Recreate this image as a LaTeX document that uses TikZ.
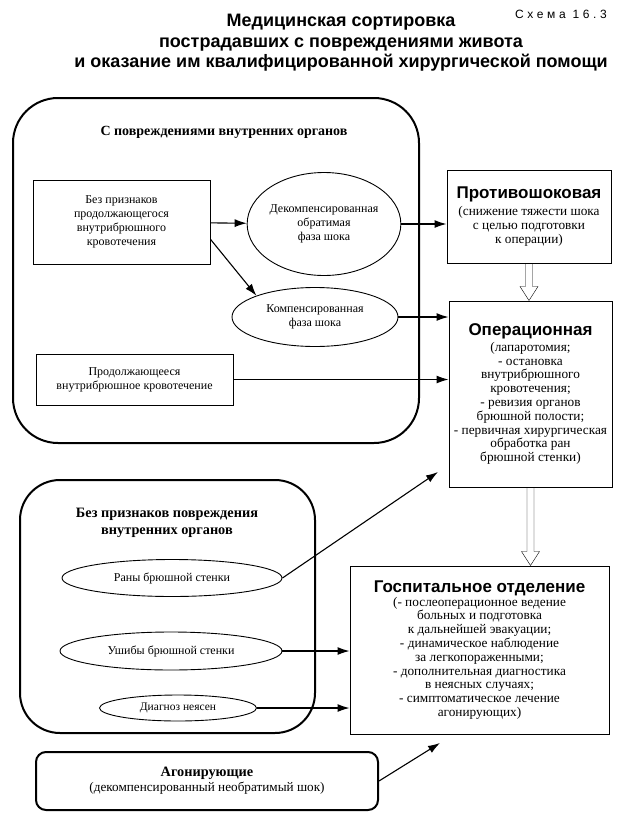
\documentclass[tikz,border=0pt]{standalone}
\usepackage{fontspec}
\setmainfont{Liberation Serif}
\newfontfamily\headfont{Liberation Sans}
\usetikzlibrary{arrows.meta,calc,shapes.geometric}
\newcommand\boxhead[1]{{\headfont\bfseries\fontsize{17}{18}\selectfont #1}}

\begin{document}
\begin{tikzpicture}[x=1pt,y=-1pt,
	every node/.style={align=center,inner sep=0pt,font=\fontsize{12}{14}\selectfont},
	box/.style={draw,line width=1pt},
	care/.style={box,font=\fontsize{13.3}{13.8}\selectfont},
	group/.style={draw,line width=2pt,rounded corners=45pt},
	oval/.style={draw,ellipse,line width=0.9pt},
	arr/.style={-{Latex[length=12pt,width=8pt]},line width=1.1pt},
	hollow/.style={line width=1pt,to path={let \p1=(\tikztostart),\p2=(\tikztotarget) in
		(\x1-3.5pt,\y1) -- (\x1-3.5pt,\y2+14pt) -- (\x1-9pt,\y2+14pt) -- (\x1,\y2)
		-- (\x1+9pt,\y2+14pt) -- (\x1+3.5pt,\y2+14pt) -- (\x1+3.5pt,\y1)}}]
	\useasboundingbox (0,0) rectangle (624,817);

	% title
	\node (title) at (341,43) [font=\headfont\bfseries\fontsize{18}{20.5}\selectfont]
		{Медицинская сортировка\\пострадавших с повреждениями живота\\и оказание им квалифицированной хирургической помощи};
	\node (scheme) at (561,14) [font=\headfont\fontsize{12}{13}\selectfont\addfontfeature{LetterSpace=30}] {Схема 16.3};

	% with injuries of internal organs
	\node (grpA) at (216,270.5) [group,minimum width=406pt,minimum height=345pt] {};
	\node (grpAtitle) at (224,132) [font=\bfseries\fontsize{14}{16}\selectfont] {С повреждениями внутренних органов};
	\node (noBleed) at (121.5,222) [box,minimum width=177pt,minimum height=84pt]
		{Без признаков\\продолжающегося\\внутрибрюшного\\кровотечения};
	\node (decomp) at (324,224) [oval,minimum width=148pt,minimum height=103pt]
		{Декомпенсированная\\обратимая\\фаза шока};
	\node (comp) at (315,317) [oval,minimum width=166pt,minimum height=59pt]
		{Компенсированная\\фаза шока};
	\node (bleed) at (134.5,379.5) [box,minimum width=197pt,minimum height=51pt]
		{Продолжающееся\\внутрибрюшное кровотечение};

	% without injuries of internal organs
	\node (grpB) at (167.5,606.5) [group,rounded corners=40pt,minimum width=295pt,minimum height=253pt] {};
	\node (grpBtitle) at (167,523) [font=\bfseries\fontsize{14.3}{17}\selectfont]
		{Без признаков повреждения\\внутренних органов};
	\node (wound) at (172,578) [oval,minimum width=220pt,minimum height=37pt] {Раны брюшной стенки};
	\node (bruise) at (171,651) [oval,minimum width=222pt,minimum height=38pt] {Ушибы брюшной стенки};
	\node (unclear) at (178,708) [oval,minimum width=157pt,minimum height=26pt,font=\fontsize{11.5}{14}\selectfont] {Диагноз неясен};

	\node (agon) at (207,781) [draw,line width=2pt,rounded corners=10pt,minimum width=342pt,minimum height=58pt,font=\fontsize{13.2}{15}\selectfont]
		{{\bfseries\fontsize{14.3}{15}\selectfont Агонирующие}\\(декомпенсированный необратимый шок)};

	% care sections
	\node (pro) at (529,216.5) [care,minimum width=164pt,minimum height=93pt]
		{\boxhead{Противошоковая}\\[3pt](снижение тяжести шока\\с целью подготовки\\к операции)};
	\node (oper) at (530.5,394) [care,minimum width=163pt,minimum height=186pt]
		{\boxhead{Операционная}\\[2pt](лапаротомия;\\- остановка\\внутрибрюшного\\кровотечения;\\- ревизия органов\\брюшной полости;\\- первичная хирургическая\\обработка ран\\брюшной стенки)};
	\node (hosp) at (479.5,650) [care,minimum width=259pt,minimum height=168pt]
		{\boxhead{Госпитальное отделение}\\(- послеоперационное ведение\\больных и подготовка\\к дальнейшей эвакуации;\\- динамическое наблюдение\\за легкопораженными;\\- дополнительная диагностика\\в неясных случаях;\\- симптоматическое лечение\\агонирующих)};

	\coordinate (woundTip) at (438,472);
	\coordinate (agonTip) at (440,743);

	\draw [arr] (noBleed) -- (decomp);
	\draw [arr] (noBleed.-11) -- (comp.160);
	\foreach \from/\to in {decomp.east/pro.west,comp.east/oper.west,bleed.east/oper.west,
		bruise.east/hosp.west,unclear.east/hosp.west}
		\draw [arr] (\from) -- (\from -| \to);
	\draw [arr] (wound.east) -- (woundTip);
	\draw [arr] (agon.east) -- (agonTip);

	\draw (pro.south) to[hollow] (pro.south |- oper.north);
	\draw (oper.south) to[hollow] (oper.south |- hosp.north);
\end{tikzpicture}
\end{document}
